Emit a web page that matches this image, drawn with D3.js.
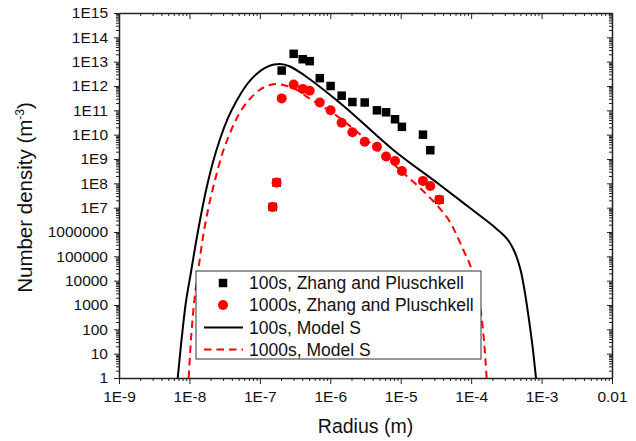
<!DOCTYPE html>
<html>
<head>
<meta charset="utf-8">
<script src="https://cdn.jsdelivr.net/npm/d3@7"></script>
<style>
  body { margin: 0; background: #fff; }
  text { font-family: "Liberation Sans", Arial, sans-serif; fill: #111; }
</style>
</head>
<body>
<div id="chart"></div>
<script>
// tick labels
const xTickVals = [1e-9, 1e-8, 1e-7, 1e-6, 1e-5, 1e-4, 1e-3, 1e-2];
const xTickLabels = ["1E-9", "1E-8", "1E-7", "1E-6", "1E-5", "1E-4", "1E-3", "0.01"];
const yTickVals = [1, 1e1, 1e2, 1e3, 1e4, 1e5, 1e6, 1e7, 1e8, 1e9, 1e10, 1e11, 1e12, 1e13, 1e14, 1e15];
const yTickLabels = ["1", "10", "100", "1000", "10000", "100000", "1000000", "1E7", "1E8",
  "1E9", "1E10", "1E11", "1E12", "1E13", "1E14", "1E15"];

// Zhang and Pluschkell, 100 s (squares)
const zp100Radius = [1.52e-7, 1.73e-7, 2.04e-7, 3.02e-7, 4.06e-7, 5.1e-7, 7.1e-7, 1.01e-6, 1.45e-6,
  2.06e-6, 3.08e-6, 4.6e-6, 6.2e-6, 8.3e-6, 1.04e-5, 2.07e-5, 2.63e-5, 3.53e-5];
const zp100Density = [1.07e7, 1.07e8, 4.3e12, 2.1e13, 1.26e13, 1.05e13, 2.1e12, 1.0e12, 4e11,
  2.2e11, 2.1e11, 1.0e11, 8.3e10, 4.3e10, 2.1e10, 1.0e10, 2.3e9, 2.1e7];

// Zhang and Pluschkell, 1000 s (circles)
const zp1000Radius = [1.52e-7, 1.73e-7, 2.04e-7, 3.02e-7, 4.06e-7, 5.1e-7, 7.1e-7, 1.01e-6, 1.45e-6,
  2.06e-6, 3.08e-6, 4.6e-6, 6.2e-6, 8.3e-6, 1.04e-5, 2.07e-5, 2.63e-5, 3.53e-5];
const zp1000Density = [1.07e7, 1.07e8, 3.1e11, 1.14e12, 7.6e11, 6.4e11, 2.1e11, 1.0e11, 3.1e10,
  1.26e10, 5.1e9, 3.2e9, 1.26e9, 8.3e8, 3.2e8, 1.26e8, 7.8e7, 2.1e7];

// Model S, 100 s
const model100Radius = [6.82e-9, 7.59e-9, 8.80e-9, 1.036e-8, 1.22e-8, 1.46e-8, 1.776e-8, 2.16e-8,
  2.72e-8, 3.53e-8, 4.74e-8, 6.46e-8, 8.81e-8, 1.222e-7, 1.588e-7, 1.93e-7, 2.68e-7, 3.72e-7,
  4.62e-7, 1.375e-6, 7.85e-6, 3.61e-5, 9.64e-5, 1.573e-4, 2.18e-4, 2.83e-4, 3.45e-4, 4.06e-4,
  4.63e-4, 5.19e-4, 5.72e-4, 6.21e-4, 6.85e-4, 7.55e-4, 8.34e-4];
const model100Density = [1, 22.7, 1.0e3, 1.71e4, 2.93e5, 5.0e6, 7.78e7, 7.55e8,
  6.66e9, 4.86e10, 2.67e11, 1.10e12, 2.98e12, 5.78e12, 7.68e12, 8.05e12, 6.35e12, 3.6e12,
  2.35e12, 2.01e11, 2.35e9, 8.56e7, 9.7e6, 3.27e6, 1.53e6, 7.9e5, 4.08e5, 1.74e5,
  6.44e4, 1.88e4, 4.14e3, 910, 125, 14.2, 1];

// Model S, 1000 s
const model1000Radius = [9.76e-9, 1.029e-8, 1.105e-8, 1.2e-8, 1.337e-8, 1.533e-8, 1.835e-8, 2.31e-8,
  2.95e-8, 3.77e-8, 5.06e-8, 7.13e-8, 9.88e-8, 1.39e-7, 1.751e-7, 2.43e-7, 3.37e-7, 4.62e-7,
  1.10e-6, 3.29e-6, 9.77e-6, 1.88e-5, 3.24e-5, 5.01e-5, 7.75e-5, 1.02e-4, 1.25e-4, 1.38e-4,
  1.52e-4, 1.66e-4];
const model1000Density = [1, 14.2, 242, 2.58e3, 2.75e4, 4.7e5, 8.04e6, 1.37e8,
  1.77e9, 1.17e10, 7.1e10, 2.8e11, 6.87e11, 1.10e12, 1.21e12, 1.0e12, 6.87e11, 3.65e11,
  7.57e10, 6.05e9, 3.54e8, 6.44e7, 1.29e7, 2.58e6, 1.82e5, 2.75e4, 2.58e3, 470,
  36.5, 1];

const W = 636, H = 441;
const mLeft = 119, mRight = 612, mTop = 13, mBottom = 378;
const axisColor = "#222";

const svg = d3.select("#chart").append("svg")
  .attr("width", W).attr("height", H)
  .style("display", "block");

svg.append("rect").attr("width", W).attr("height", H).attr("fill", "#fff");

const x = d3.scaleLog().domain([1e-9, 1e-2]).range([mLeft, mRight]);
const y = d3.scaleLog().domain([1, 1e15]).range([mBottom, mTop]);

// minor ticks 2..9 in every decade
const minorTicks = (lo, hi) => {
  const out = [];
  for (let e = lo; e < hi; e++) for (let k = 2; k <= 9; k++) out.push(k * Math.pow(10, e));
  return out;
};
const xMinor = minorTicks(-9, -2);
const yMinor = minorTicks(0, 15);

function styleAxis(g) {
  g.selectAll("path").attr("stroke", axisColor).attr("stroke-width", 1.5);
  g.selectAll("line").attr("stroke", axisColor).attr("stroke-width", 1);
  g.selectAll("text").attr("fill", "#111")
    .style("font-family", '"Liberation Sans", Arial, sans-serif');
}

// bottom axis
svg.append("g").attr("transform", `translate(0,${mBottom})`)
  .call(d3.axisBottom(x).tickValues(xMinor).tickSize(3).tickSizeOuter(0).tickFormat(""))
  .call(styleAxis);
svg.append("g").attr("transform", `translate(0,${mBottom})`)
  .call(d3.axisBottom(x).tickValues(xTickVals).tickSize(6).tickSizeOuter(0).tickPadding(7)
    .tickFormat((d, i) => xTickLabels[i]))
  .call(styleAxis)
  .call(g => g.select(".domain").remove())
  .selectAll("text").style("font-size", "15.5px");

// top axis (ticks inward)
svg.append("g").attr("transform", `translate(0,${mTop})`)
  .call(d3.axisBottom(x).tickValues(xMinor).tickSize(3).tickSizeOuter(0).tickFormat(""))
  .call(styleAxis);
svg.append("g").attr("transform", `translate(0,${mTop})`)
  .call(d3.axisBottom(x).tickValues(xTickVals).tickSize(6).tickSizeOuter(0).tickFormat(""))
  .call(styleAxis)
  .call(g => g.select(".domain").remove());

// left axis
svg.append("g").attr("transform", `translate(${mLeft},0)`)
  .call(d3.axisLeft(y).tickValues(yMinor).tickSize(3).tickSizeOuter(0).tickFormat(""))
  .call(styleAxis);
svg.append("g").attr("transform", `translate(${mLeft},0)`)
  .call(d3.axisLeft(y).tickValues(yTickVals).tickSize(5).tickSizeOuter(0).tickPadding(6)
    .tickFormat((d, i) => yTickLabels[i]))
  .call(styleAxis)
  .call(g => g.select(".domain").remove())
  .selectAll("text").style("font-size", "15.5px");

// right axis (ticks inward)
svg.append("g").attr("transform", `translate(${mRight},0)`)
  .call(d3.axisLeft(y).tickValues(yMinor).tickSize(3).tickSizeOuter(0).tickFormat(""))
  .call(styleAxis);
svg.append("g").attr("transform", `translate(${mRight},0)`)
  .call(d3.axisLeft(y).tickValues(yTickVals).tickSize(5).tickSizeOuter(0).tickFormat(""))
  .call(styleAxis)
  .call(g => g.select(".domain").remove());

// model curves
const line = d3.line().x(d => x(d[0])).y(d => y(d[1])).curve(d3.curveMonotoneX);

svg.append("path")
  .datum(model100Radius.map((r, i) => [r, model100Density[i]]))
  .attr("d", line)
  .attr("fill", "none").attr("stroke", "#000").attr("stroke-width", 2);

svg.append("path")
  .datum(model1000Radius.map((r, i) => [r, model1000Density[i]]))
  .attr("d", line)
  .attr("fill", "none").attr("stroke", "#ff0000").attr("stroke-width", 2)
  .attr("stroke-dasharray", "7.5,5");

// measured points
const sq = 8.5;
svg.append("g").selectAll("rect")
  .data(zp100Radius.map((r, i) => [r, zp100Density[i]]))
  .join("rect")
  .attr("x", d => x(d[0]) - sq / 2).attr("y", d => y(d[1]) - sq / 2)
  .attr("width", sq).attr("height", sq).attr("fill", "#000");

svg.append("g").selectAll("circle")
  .data(zp1000Radius.map((r, i) => [r, zp1000Density[i]]))
  .join("circle")
  .attr("cx", d => x(d[0])).attr("cy", d => y(d[1])).attr("r", 5)
  .attr("fill", "#ff0000");

// legend
const lg = svg.append("g");
lg.append("rect").attr("x", 196).attr("y", 271).attr("width", 285).attr("height", 88)
  .attr("fill", "#fff").attr("stroke", "#333").attr("stroke-width", 1);
const rows = [283, 305, 327.5, 349.5];
const legendLabels = ["100s, Zhang and Pluschkell", "1000s, Zhang and Pluschkell",
  "100s, Model S", "1000s, Model S"];
lg.append("rect").attr("x", 223 - sq / 2).attr("y", rows[0] - sq / 2)
  .attr("width", sq).attr("height", sq).attr("fill", "#000");
lg.append("circle").attr("cx", 223).attr("cy", rows[1]).attr("r", 5).attr("fill", "#ff0000");
lg.append("line").attr("x1", 204).attr("x2", 243).attr("y1", rows[2]).attr("y2", rows[2])
  .attr("stroke", "#000").attr("stroke-width", 2);
lg.append("line").attr("x1", 204).attr("x2", 243).attr("y1", rows[3]).attr("y2", rows[3])
  .attr("stroke", "#ff0000").attr("stroke-width", 2).attr("stroke-dasharray", "7.5,5");
lg.selectAll("text.lbl").data(legendLabels).join("text")
  .attr("class", "lbl")
  .attr("x", 249).attr("y", (d, i) => rows[i]).attr("dy", "0.36em")
  .style("font-size", "17.5px")
  .text(d => d);

// axis titles
svg.append("text")
  .attr("x", (mLeft + mRight) / 2).attr("y", 433)
  .attr("text-anchor", "middle")
  .style("font-size", "19.5px")
  .text("Radius (m)");

const yt = svg.append("text")
  .attr("transform", `translate(31.5,${(mTop + mBottom) / 2 + 2}) rotate(-90)`)
  .attr("text-anchor", "middle")
  .style("font-size", "20.5px");
yt.append("tspan").text("Number density (m");
yt.append("tspan").attr("dy", -8).style("font-size", "12px").text("-3");
yt.append("tspan").attr("dy", 8).text(")");
</script>
</body>
</html>
